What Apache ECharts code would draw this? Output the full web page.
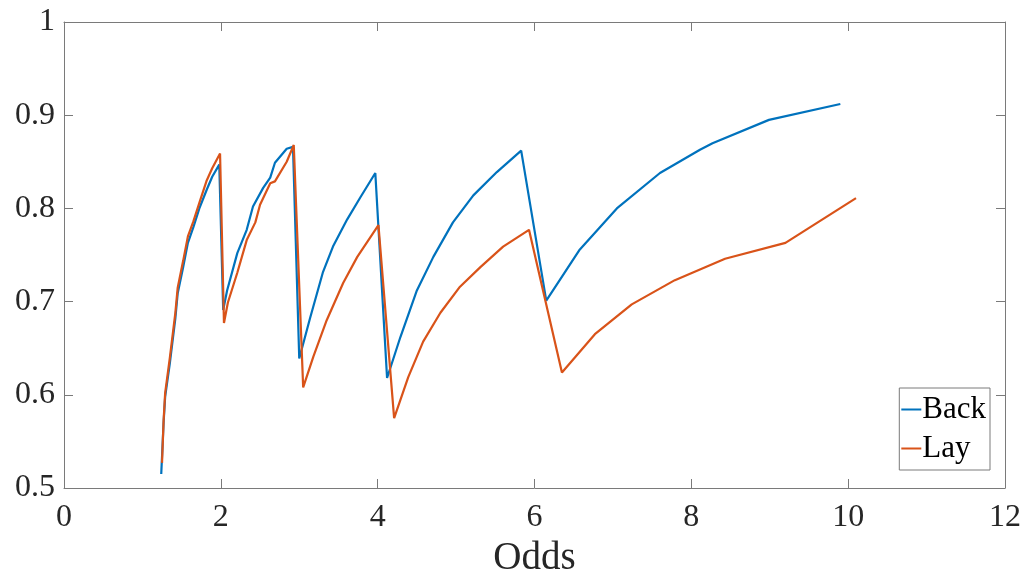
<!DOCTYPE html>
<html>
<head>
<meta charset="utf-8">
<script src="https://cdn.jsdelivr.net/npm/echarts@6/dist/echarts.min.js"></script>
<style>html,body{margin:0;padding:0;background:#fff}#c{width:1026px;height:580px}</style>
</head>
<body>
<div id="c"></div>
<script>
const backX = [1.24,1.27,1.29,1.35,1.42,1.45,1.52,1.58,1.65,1.73,1.82,1.89,1.98,2.03,2.08,2.21,2.33,2.41,2.54,2.63,2.69,2.84,2.92,3.0,3.14,3.30,3.43,3.61,3.78,3.97,4.12,4.29,4.50,4.71,4.96,5.22,5.52,5.83,6.15,6.57,7.05,7.60,8.11,8.27,8.99,9.90];
const backY = [0.515,0.570,0.598,0.634,0.682,0.709,0.737,0.763,0.780,0.801,0.820,0.834,0.847,0.691,0.712,0.752,0.777,0.802,0.822,0.833,0.849,0.864,0.866,0.639,0.683,0.731,0.759,0.788,0.812,0.838,0.618,0.662,0.712,0.748,0.785,0.814,0.839,0.862,0.701,0.755,0.800,0.838,0.863,0.870,0.895,0.912];
const layX = [1.25,1.27,1.29,1.35,1.42,1.45,1.52,1.58,1.65,1.73,1.82,1.89,1.99,2.04,2.09,2.21,2.33,2.44,2.50,2.63,2.69,2.84,2.93,3.05,3.18,3.35,3.56,3.74,4.01,4.21,4.39,4.58,4.80,5.05,5.31,5.60,5.93,6.35,6.77,7.24,7.79,8.43,9.20,10.10];
const layY = [0.527,0.572,0.602,0.640,0.688,0.715,0.744,0.770,0.786,0.807,0.830,0.843,0.859,0.677,0.699,0.731,0.766,0.785,0.804,0.827,0.829,0.850,0.868,0.608,0.641,0.680,0.720,0.748,0.782,0.575,0.619,0.657,0.688,0.716,0.737,0.759,0.777,0.624,0.665,0.697,0.723,0.746,0.763,0.811];
const xTicks = [0,2,4,6,8,10,12];
const yTicks = [0.5,0.6,0.7,0.8,0.9,1];

const zip = (xs, ys) => xs.map((x, i) => [x, ys[i]]);
const FONT = '"Liberation Serif", "DejaVu Serif", serif';
const axisCol = '#7a7a7a';

const chart = echarts.init(document.getElementById('c'), null, {renderer: 'canvas'});
const baseX = {
  type: 'value', min: 0, max: 12, interval: 2,
  axisLine: {show: true, onZero: false, lineStyle: {color: axisCol, width: 1}},
  axisTick: {show: true, inside: true, length: 9, lineStyle: {color: axisCol}},
  splitLine: {show: false}
};
const baseY = {
  type: 'value', min: 0.5, max: 1, interval: 0.1,
  axisLine: {show: true, onZero: false, lineStyle: {color: axisCol, width: 1}},
  axisTick: {show: true, inside: true, length: 9, lineStyle: {color: axisCol}},
  splitLine: {show: false}
};
chart.setOption({
  animation: false,
  backgroundColor: '#fff',
  grid: {left: 64, right: 21, top: 22, bottom: 92, containLabel: false, outerBoundsMode: 'none'},
  xAxis: [
    Object.assign({}, baseX, {
      position: 'bottom', name: 'Odds', nameLocation: 'middle', nameGap: 50,
      nameTextStyle: {fontFamily: FONT, fontSize: 39, color: '#262626'},
      axisLabel: {fontFamily: FONT, fontSize: 32, color: '#262626', margin: 14,
        formatter: v => xTicks.includes(v) ? String(v) : ''}
    }),
    Object.assign({}, baseX, {position: 'top', axisLabel: {show: false}})
  ],
  yAxis: [
    Object.assign({}, baseY, {
      position: 'left',
      axisLabel: {fontFamily: FONT, fontSize: 32, color: '#262626', margin: 9,
        formatter: v => { const t = yTicks.find(q => Math.abs(q - v) < 1e-9); return t === undefined ? '' : String(t); }}
    }),
    Object.assign({}, baseY, {position: 'right', axisLabel: {show: false}})
  ],
  legend: {
    orient: 'vertical', right: 36, top: 388,
    backgroundColor: '#fff', borderColor: axisCol, borderWidth: 1,
    padding: [6, 4, 6, 2], itemGap: 8, itemWidth: 20, itemHeight: 2, icon: 'rect',
    textStyle: {fontFamily: FONT, fontSize: 31, color: '#000', padding: [0,0,0,-4]},
    data: ['Back', 'Lay']
  },
  series: [
    {name: 'Back', type: 'line', data: zip(backX, backY), showSymbol: false, symbol: 'none',
     lineStyle: {color: '#0072BD', width: 2.2}, itemStyle: {color: '#0072BD'}},
    {name: 'Lay', type: 'line', data: zip(layX, layY), showSymbol: false, symbol: 'none',
     lineStyle: {color: '#D95319', width: 2.2}, itemStyle: {color: '#D95319'}}
  ]
});
</script>
</body>
</html>
